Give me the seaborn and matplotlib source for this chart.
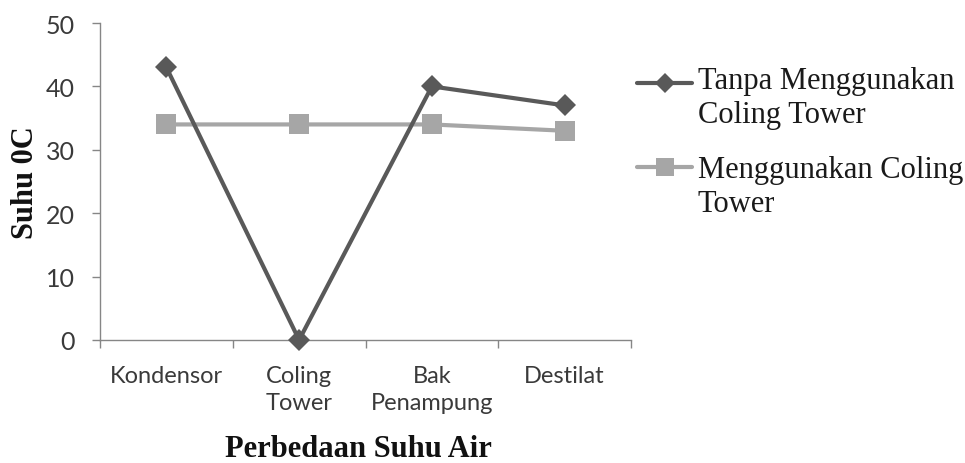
import matplotlib
matplotlib.use("Agg")
import matplotlib.pyplot as plt
from matplotlib.lines import Line2D
from matplotlib.ticker import FixedLocator
import seaborn as sns
import pandas as pd

# Measurement points along the water circuit
lokasi = ["Kondensor", "Coling Tower", "Bak Penampung", "Destilat"]
lokasi_label = ["Kondensor", "Coling\nTower", "Bak\nPenampung", "Destilat"]

# Water temperature (deg C) at each point
tanpa_tower = [43, 0, 40, 37]
dengan_tower = [34, 34, 34, 33]

seri_tanpa = ["Tanpa Menggunakan", "Coling Tower"]
seri_dengan = ["Menggunakan Coling", "Tower"]

y_ticks = [0, 10, 20, 30, 40, 50]

df_tanpa = pd.DataFrame({"Lokasi": lokasi, "Suhu": tanpa_tower})
df_dengan = pd.DataFrame({"Lokasi": lokasi, "Suhu": dengan_tower})

DARK = "#595959"
LIGHT = "#a6a6a6"
AXIS = "#868686"
TEXT = "#3a3a3a"
SERIF = ["Liberation Serif", "DejaVu Serif"]
SANS = ["Lato", "DejaVu Sans"]

sns.set_style("white")

fig = plt.figure(figsize=(9.65, 4.64), dpi=100)
W, H = 965, 464
ax = fig.add_axes([100 / W, (H - 341) / H, 531 / W, 317 / H])

sns.lineplot(data=df_dengan, x="Lokasi", y="Suhu", sort=False, ax=ax,
             color=LIGHT, linewidth=3, marker="s", markersize=15,
             markeredgewidth=0, legend=False, zorder=2)
sns.lineplot(data=df_tanpa, x="Lokasi", y="Suhu", sort=False, ax=ax,
             color=DARK, linewidth=3, marker="D", markersize=11,
             markeredgewidth=0, legend=False, zorder=3)
for line in ax.lines:
    line.set_clip_on(False)

ax.set_xlim(-0.5, len(lokasi) - 0.5)
ax.set_ylim(0, 50)
ax.set_yticks(y_ticks)
ax.set_yticklabels([str(v) for v in y_ticks], fontfamily=SANS,
                   fontsize=18, color=TEXT)

ax.set_xticks(range(len(lokasi)))
ax.set_xticklabels(lokasi_label, fontfamily=SANS, fontsize=17,
                   color=TEXT, linespacing=1.35)
ax.xaxis.set_minor_locator(FixedLocator([i - 0.5 for i in range(len(lokasi) + 1)]))
ax.tick_params(axis="x", which="major", length=0, pad=18)
ax.tick_params(axis="x", which="minor", length=6, width=1, color=AXIS,
               direction="out", bottom=True)
ax.tick_params(axis="y", length=6, width=1, color=AXIS, direction="out",
               pad=12, left=True)

for side in ("top", "right"):
    ax.spines[side].set_visible(False)
for side in ("left", "bottom"):
    ax.spines[side].set_color(AXIS)
    ax.spines[side].set_linewidth(1)
    ax.spines[side].set_zorder(1)

ax.set_xlabel("Perbedaan Suhu Air", fontfamily=SERIF, fontsize=22,
              fontweight="bold", color="#111111")
ax.xaxis.set_label_coords((358 - 100) / 531, (341 - 457) / 317)
ax.xaxis.label.set_verticalalignment("baseline")

ax.set_ylabel("Suhu 0C", fontfamily=SERIF, fontsize=22,
              fontweight="bold", color="#111111")
ax.yaxis.set_label_coords((33 - 100) / 531, 0.5)
ax.yaxis.label.set_verticalalignment("baseline")


# Legend keys to the right of the plot, each key level with its first text line
def legend_entry(y_key, y_bases, color, marker, ms, lines):
    fig.add_artist(Line2D([637 / W, 692 / W], [1 - y_key / H, 1 - y_key / H],
                          color=color, linewidth=3, transform=fig.transFigure))
    fig.add_artist(Line2D([665 / W], [1 - y_key / H], color=color,
                          marker=marker, markersize=ms, markeredgewidth=0,
                          linestyle="none", transform=fig.transFigure))
    for yb, txt in zip(y_bases, lines):
        fig.text(698 / W, 1 - yb / H, txt, fontfamily=SERIF, fontsize=22,
                 color="#1a1a1a", va="baseline", ha="left")


legend_entry(84, (89, 123), DARK, "D", 10, seri_tanpa)
legend_entry(168, (178, 212), LIGHT, "s", 13, seri_dengan)

fig.savefig("out.png", dpi=100, facecolor="white")
